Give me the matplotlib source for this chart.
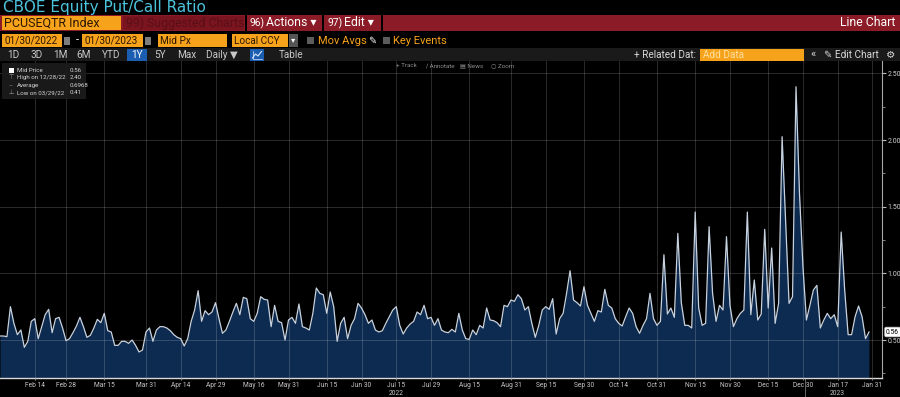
import numpy as np
import pandas as pd
import matplotlib
matplotlib.use("Agg")
import matplotlib.pyplot as plt
from matplotlib.patches import Rectangle
from matplotlib.transforms import blended_transform_factory

plt.rcParams['font.family'] = ['Roboto', 'DejaVu Sans']

# --- data -------------------------------------------------------------
start_date = '2022-01-31'
end_date = '2023-01-30'
holidays = ['2022-02-21', '2022-04-15', '2022-05-30', '2022-06-20', '2022-07-04',
            '2022-09-05', '2022-11-24', '2022-12-26', '2023-01-02', '2023-01-16']

# daily equity put/call ratio (one value per trading day)
ratio_feb_mar = [0.53, 0.53, 0.525, 0.75, 0.625, 0.54, 0.575, 0.445, 0.49, 0.64,
                 0.66, 0.51, 0.60, 0.69, 0.73, 0.555, 0.66, 0.67, 0.59, 0.495,
                 0.51, 0.555, 0.605, 0.67, 0.60, 0.52, 0.535, 0.59, 0.655, 0.63,
                 0.70, 0.57, 0.56, 0.46, 0.46, 0.49, 0.49, 0.475, 0.50, 0.46,
                 0.41, 0.425, 0.56, 0.59]
ratio_apr_may = [0.49, 0.575, 0.60, 0.60, 0.59, 0.57, 0.54, 0.52, 0.51, 0.455,
                 0.51, 0.64, 0.725, 0.87, 0.64, 0.72, 0.69, 0.71, 0.78, 0.66,
                 0.55, 0.575, 0.64, 0.71, 0.775, 0.69, 0.82, 0.81, 0.66, 0.64,
                 0.70, 0.825, 0.805, 0.80, 0.60, 0.76, 0.64, 0.63, 0.50, 0.65, 0.67]
ratio_jun_jul = [0.625, 0.77, 0.60, 0.59, 0.575, 0.70, 0.89, 0.85, 0.84, 0.70,
                 0.86, 0.75, 0.49, 0.625, 0.67, 0.51, 0.61, 0.66, 0.775, 0.74,
                 0.69, 0.625, 0.65, 0.575, 0.56, 0.57, 0.625, 0.675, 0.725, 0.75,
                 0.61, 0.545, 0.59, 0.62, 0.64, 0.71, 0.69, 0.76, 0.66, 0.67,
                 0.61, 0.66]
ratio_aug_sep = [0.575, 0.56, 0.555, 0.58, 0.56, 0.70, 0.575, 0.51, 0.505, 0.575,
                 0.54, 0.61, 0.59, 0.74, 0.65, 0.645, 0.63, 0.60, 0.76, 0.75,
                 0.80, 0.79, 0.84, 0.81, 0.725, 0.75, 0.625, 0.52, 0.61, 0.725,
                 0.75, 0.73, 0.81, 0.545, 0.66, 0.70, 0.85, 1.02, 0.80, 0.78,
                 0.755, 0.90]
ratio_oct_nov = [0.76, 0.70, 0.64, 0.72, 0.71, 0.88, 0.76, 0.74, 0.66, 0.625,
                 0.605, 0.675, 0.74, 0.70, 0.60, 0.55, 0.61, 0.66, 0.85, 0.66,
                 0.61, 0.64, 1.14, 0.695, 0.74, 0.67, 1.30, 0.78, 0.61, 0.61,
                 0.59, 1.46, 0.74, 0.61, 0.625, 1.35, 0.85, 0.64, 0.76, 0.725,
                 1.275, 0.76]
ratio_dec_jan = [0.60, 0.66, 0.70, 0.725, 1.46, 0.69, 0.95, 0.65, 0.695, 1.33,
                 0.74, 1.19, 0.625, 0.775, 2.025, 1.40, 0.775, 0.825, 2.40, 1.60,
                 1.05, 0.65, 0.76, 0.875, 0.91, 0.59, 0.65, 0.70, 0.66, 0.69,
                 0.60, 1.31, 0.875, 0.54, 0.54, 0.675, 0.755, 0.675, 0.51, 0.56]
ratio = (ratio_feb_mar + ratio_apr_may + ratio_jun_jul + ratio_aug_sep
         + ratio_oct_nov + ratio_dec_jan)

tick_dates = ['2022-02-14', '2022-02-28', '2022-03-15', '2022-03-31', '2022-04-14',
              '2022-04-29', '2022-05-16', '2022-05-31', '2022-06-15', '2022-06-30',
              '2022-07-15', '2022-07-29', '2022-08-15', '2022-08-31', '2022-09-15',
              '2022-09-30', '2022-10-14', '2022-10-31', '2022-11-15', '2022-11-30',
              '2022-12-15', '2022-12-30', '2023-01-17', '2023-01-31']
tick_labels = ['Feb 14', 'Feb 28', 'Mar 15', 'Mar 31', 'Apr 14', 'Apr 29', 'May 16',
               'May 31', 'Jun 15', 'Jun 30', 'Jul 15', 'Jul 29', 'Aug 15', 'Aug 31',
               'Sep 15', 'Sep 30', 'Oct 14', 'Oct 31', 'Nov 15', 'Nov 30', 'Dec 15',
               'Dec 30', 'Jan 17', 'Jan 31']
year_labels = ['2022', '2023']
year_label_dates = ['2022-07-15', '2023-01-17']

y_ticks = [0.5, 1.0, 1.5, 2.0, 2.5]
y_minor = [0.25, 0.75, 1.25, 1.75, 2.25]

stat_names = ['Mid Price', 'High on 12/28/22', 'Average', 'Low on 03/29/22']
stat_values = ['0.56', '2.40', '0.6968', '0.41']
last_value = 0.56

dates = pd.bdate_range(start_date, end_date, freq='C', holidays=holidays)
if len(dates) != len(ratio):
    raise ValueError(f"{len(dates)} dates vs {len(ratio)} values")
x = np.arange(len(dates))
tick_pos = dates.searchsorted(pd.to_datetime(tick_dates))
year_pos = dates.searchsorted(pd.to_datetime(year_label_dates))

# colours
ORANGE = '#f7a21b'
RED = '#8b1b26'
BLUE_BTN = '#1b5db0'
FILL = '#0d2b50'

W, H = 900, 397
fig = plt.figure(figsize=(9, 3.97), dpi=100, facecolor='black')

bg = fig.add_axes([0, 0, 1, 1], zorder=0)
bg.set_xlim(0, W)
bg.set_ylim(H, 0)
bg.axis('off')


def box(a, x0, y0, x1, y1, color, **kw):
    a.add_patch(Rectangle((x0, y0), x1 - x0, y1 - y0, facecolor=color,
                          edgecolor='none', **kw))


def txt(a, x0, y0, s, color, size, ha='left', **kw):
    a.text(x0, y0, s, color=color, fontsize=size, ha=ha, va='center', **kw)


# title row
txt(bg, 3, 7.5, 'CBOE Equity Put/Call Ratio', '#4cc3dc', 11,
    family=['DejaVu Sans'])

# red command bar
box(bg, 0, 14.5, W, 31, RED)
box(bg, 2, 15.5, 121, 30, ORANGE)
txt(bg, 4, 23, 'PCUSEQTR Index', '#2b1700', 9)
box(bg, 123, 15.5, 244, 30, '#7a1520')
txt(bg, 126, 23, '99) Suggested Charts', '#5a0e16', 8.8)
for sx in (244.5, 321.5, 380.5):
    box(bg, sx, 14.5, sx + 2, 31, 'black')
txt(bg, 249, 23, '96)', 'white', 7.5)
txt(bg, 266, 23, 'Actions \u25be', 'white', 8.8)
txt(bg, 327, 23, '97)', 'white', 7.5)
txt(bg, 344, 23, 'Edit \u25be', 'white', 8.8)
txt(bg, 895, 23, 'Line Chart', 'white', 8.8, ha='right')

# date / settings row
for (x0, x1, s) in [(2, 62, '01/30/2022'), (82, 143, '01/30/2023'),
                    (158, 227, 'Mid Px'), (232, 288, 'Local CCY')]:
    box(bg, x0, 34, x1, 47, ORANGE)
    txt(bg, x0 + 2.5, 40.5, s, '#2b1700', 7.2)
for cx in (63.5, 144.5):
    box(bg, cx, 36.5, cx + 6.5, 44.5, '#7d7d7d')
txt(bg, 77, 40.5, '-', 'white', 8, ha='center')
box(bg, 289, 34, 298, 47, '#555555')
txt(bg, 293.5, 40.5, '\u25be', 'white', 6, ha='center')
box(bg, 307, 37, 314, 44, '#5c5c5c')
txt(bg, 318, 40.5, 'Mov Avgs', ORANGE, 8)
txt(bg, 368, 40.5, '\u270e', 'white', 7)
box(bg, 383, 37, 390, 44, '#5c5c5c')
txt(bg, 393, 40.5, 'Key Events', ORANGE, 8)

# range / toolbar row
box(bg, 0, 48, W, 61, '#1a1a1a')
for cx, s in [(13, '1D'), (37, '3D'), (60, '1M'), (83.5, '6M'), (111, 'YTD'),
              (160, '5Y'), (187, 'Max')]:
    txt(bg, cx, 54.5, s, '#c8c8c8', 7.2, ha='center')
box(bg, 127, 48.5, 147, 60.5, BLUE_BTN)
txt(bg, 137, 54.5, '1Y', 'white', 7.2, ha='center')
txt(bg, 206, 54.5, 'Daily \u25bc', '#c8c8c8', 7.2)
box(bg, 250, 48.5, 264, 60.5, BLUE_BTN)
bg.plot([252.5, 255.5, 258, 261.5], [58, 54, 56, 51.5], color='#d8e6ff', lw=0.8)
bg.plot([252.5, 252.5, 262], [51, 58.5, 58.5], color='#d8e6ff', lw=0.5)
txt(bg, 291, 54.5, 'Table', '#c8c8c8', 7.2, ha='center')
txt(bg, 696, 54.5, '+ Related Dat:', '#d8d8d8', 7.2, ha='right')
box(bg, 700, 48.5, 804, 60.5, ORANGE)
txt(bg, 703, 54.5, 'Add Data', '#fde0a0', 7.2)
txt(bg, 813, 54.5, '\u00ab', '#d8d8d8', 8, ha='center')
txt(bg, 824, 54.5, '\u270e Edit Chart', '#d8d8d8', 7.2)
txt(bg, 891, 54.5, '\u2699', '#d8d8d8', 7.5, ha='center')

# --- chart ------------------------------------------------------------
ax = fig.add_axes([0, 19 / H, 882 / W, 317 / H], zorder=1)
ax.set_facecolor('black')
ax.fill_between(x, ratio, 0, color=FILL, lw=0, zorder=1)
ax.plot(x, ratio, color='#c8d2de', lw=0.9, zorder=3)
ax.set_xlim(0, 882 / 3.476)
ax.set_ylim(0.215, 2.593)

ax.set_axisbelow(False)
ax.set_xticks(tick_pos)
ax.set_xticklabels(tick_labels)
ax.yaxis.tick_right()
ax.set_yticks(y_ticks)
ax.set_yticklabels([f'{v:.2f}' for v in y_ticks])
ax.set_yticks(y_minor, minor=True)
ax.grid(True, which='major', color='white', alpha=0.17, lw=0.7)

ax.tick_params(axis='x', length=1.5, color='#888888', labelsize=4.8,
               labelcolor='#c8c8c8', pad=1.2)
ax.tick_params(axis='y', which='major', length=3, color='#bbbbbb', labelsize=5,
               labelcolor='#d0d0d0', pad=1)
ax.tick_params(axis='y', which='minor', length=2, color='#999999')

for side in ('top', 'left'):
    ax.spines[side].set_visible(False)
ax.spines['bottom'].set_color('#d8d8d8')
ax.spines['bottom'].set_linewidth(1)
ax.spines['right'].set_color('#a8a8a8')
ax.spines['right'].set_linewidth(0.8)

trans = blended_transform_factory(ax.transData, ax.transAxes)
for pos, s in zip(year_pos, year_labels):
    ax.text(pos, -0.05, s, transform=trans, ha='center', va='center',
            fontsize=4.8, color='#c8c8c8')
ax.plot([231.5, 231.5], [0, -0.07], transform=trans, clip_on=False,
        color='#777777', lw=0.6)

# last value tag
ax.text(1.012, last_value, f'{last_value:.2f}',
        transform=blended_transform_factory(ax.transAxes, ax.transData),
        ha='center', va='center', fontsize=4.8, color='black', clip_on=False,
        bbox=dict(boxstyle='round,pad=0.2', facecolor='white', edgecolor='#cccccc', lw=0.5))

# --- overlays inside chart -------------------------------------------
fg = fig.add_axes([0, 0, 1, 1], zorder=3)
fg.set_xlim(0, W)
fg.set_ylim(H, 0)
fg.axis('off')

for cx, s in [(396, '+ Track'), (426, '\u2215 Annotate'), (460, '\u25a4 News'),
              (491, '\u25cb Zoom')]:
    txt(fg, cx, 65.5, s, '#8c8c8c', 4.5)

box(fg, 2, 62.5, 86, 98.5, '#1c1c1c', alpha=0.92)
row_y = [70, 77.7, 85.4, 93]
icons = ['', '\u22a4', '\u2013', '\u22a5']
box(fg, 8.5, 67.5, 13.5, 72.5, 'white')
for yy, icon, name, val in zip(row_y, icons, stat_names, stat_values):
    if icon:
        txt(fg, 11, yy, icon, '#9a9a9a', 4.5, ha='center')
    txt(fg, 17, yy, name, '#d6d6d6', 4.4)
    txt(fg, 70, yy, val, '#d6d6d6', 4.4)

fig.savefig('out.png', dpi=100, facecolor='black')
